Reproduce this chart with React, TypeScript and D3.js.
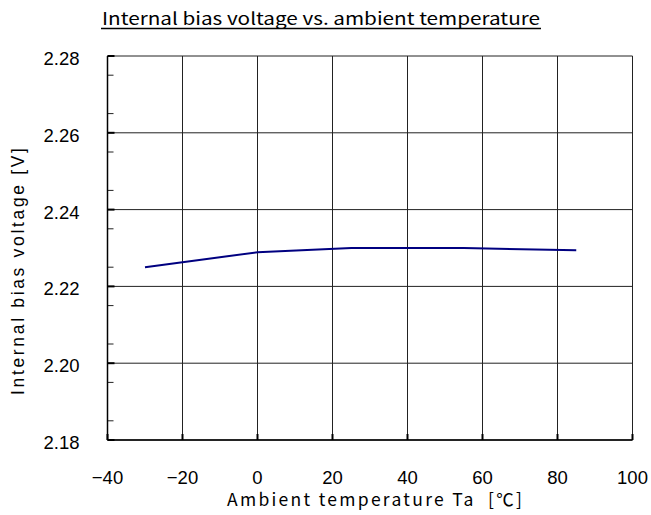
import React from "react";
import * as d3 from "d3";

const temps = [-30, 0, 25, 55, 85];
const voltages = [2.225, 2.2289, 2.23, 2.23, 2.2294];
const xTicks = [-40, -20, 0, 20, 40, 60, 80, 100];
const yTicks = [2.18, 2.2, 2.22, 2.24, 2.26, 2.28];
const titleText = "Internal bias voltage vs. ambient temperature";
const xTitle = "Ambient temperature Ta  [℃]";
const yTitle = "Internal bias voltage [V]";

const W = 651, H = 515;
const L = 107.5, R = 632.5, T = 56, B = 440;
const cjk = "'Noto Sans CJK JP', 'Noto Sans', sans-serif";
const sans = "'Liberation Sans', Arial, sans-serif";

export default function App() {
  const x = d3.scaleLinear().domain([-40, 100]).range([L, R]);
  const y = d3.scaleLinear().domain([2.18, 2.28]).range([B, T]);
  const line = d3.line<number>().x((_, i) => x(temps[i])).y((d) => y(d));
  const minor = d3.range(2.18, 2.2801, 0.005).filter((v) => Math.abs(Math.round(v * 100) / 100 - v) > 1e-6);
  return (
    <svg width={W} height={H} style={{ position: "absolute", left: 0, top: 0, background: "#fff" }}>
      {xTicks.map((t) => (
        <line key={"gx" + t} x1={x(t)} x2={x(t)} y1={T} y2={B} stroke="#222" strokeWidth={1} />
      ))}
      {yTicks.map((t) => (
        <line key={"gy" + t} x1={L} x2={R} y1={y(t)} y2={y(t)} stroke="#222" strokeWidth={1} />
      ))}
      {minor.map((t, i) => (
        <line key={"m" + i} x1={L} x2={L + 6} y1={y(t)} y2={y(t)} stroke="#222" strokeWidth={1} />
      ))}
      {yTicks.map((t) => (
        <line key={"ty" + t} x1={L} x2={L + 7} y1={y(t)} y2={y(t)} stroke="#000" strokeWidth={2} />
      ))}
      {xTicks.map((t) => (
        <line key={"tx" + t} x1={x(t)} x2={x(t)} y1={B} y2={B - 6} stroke="#000" strokeWidth={2} />
      ))}
      <line x1={L} x2={L} y1={T} y2={B} stroke="#000" strokeWidth={1.5} />
      <line x1={L} x2={R} y1={B} y2={B} stroke="#000" strokeWidth={1.5} />
      <path d={line(voltages) || ""} fill="none" stroke="#000080" strokeWidth={2} />
      {yTicks.map((t) => (
        <text key={"ly" + t} x={79.5} y={y(t) + 9} textAnchor="end" fontFamily={sans} fontSize={18.5} fill="#000">
          {t.toFixed(2)}
        </text>
      ))}
      {xTicks.map((t) => (
        <text key={"lx" + t} x={x(t)} y={483.5} textAnchor="middle" fontFamily={sans} fontSize={18.5} fill="#000">
          {t < 0 ? "−" + Math.abs(t) : String(t)}
        </text>
      ))}
      <text x={102} y={25} fontFamily={cjk} fontSize={17} fill="#000" textLength={438} lengthAdjust="spacingAndGlyphs">
        {titleText}
      </text>
      <line x1={101} x2={541} y1={28.5} y2={28.5} stroke="#000" strokeWidth={1.5} />
      <text x={227} y={506} fontFamily={cjk} fontSize={17.5} fill="#000" textLength={295} lengthAdjust="spacing" style={{ whiteSpace: "pre" }}>
        {xTitle}
      </text>
      <text transform={`translate(24,395) rotate(-90)`} fontFamily={sans} fontSize={17.5} fill="#000" textLength={247} lengthAdjust="spacing">
        {yTitle}
      </text>
    </svg>
  );
}
